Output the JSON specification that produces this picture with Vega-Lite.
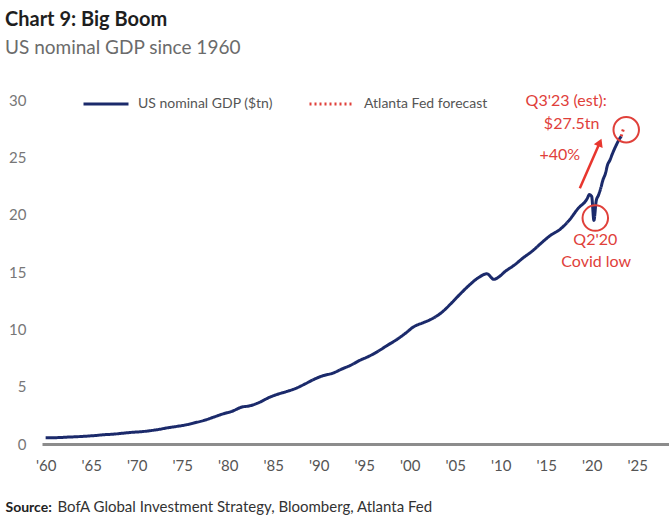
{
  "$schema": "https://vega.github.io/schema/vega-lite/v6.json",
  "width": 627,
  "height": 344,
  "autosize": {"type": "none"},
  "padding": {"left": 42, "top": 100, "right": 0, "bottom": 71},
  "background": "white",
  "title": {
    "text": "Chart 9: Big Boom",
    "subtitle": "US nominal GDP since 1960",
    "anchor": "start",
    "frame": "group",
    "dx": -37,
    "offset": 22,
    "font": "Lato",
    "fontSize": 20,
    "fontWeight": "bold",
    "color": "#1e1e1e",
    "subtitleFont": "Lato",
    "subtitleFontSize": 19,
    "subtitleColor": "#6b6b6b",
    "subtitlePadding": 9
  },
  "config": {
    "view": {"stroke": null},
    "font": "Lato",
    "legend": {
      "orient": "none",
      "legendX": 40,
      "legendY": -20,
      "direction": "horizontal",
      "title": null,
      "symbolType": "stroke",
      "symbolSize": 2025,
      "symbolStrokeWidth": 3,
      "labelFontSize": 14,
      "labelColor": "#555555",
      "labelFont": "Lato",
      "labelOffset": 8,
      "columnPadding": 30,
      "padding": 0
    }
  },
  "datasets": {
    "gdp": [
      {"t": 1960.0, "v": 0.54, "s": "US nominal GDP ($tn)"},
      {"t": 1960.5, "v": 0.543, "s": "US nominal GDP ($tn)"},
      {"t": 1961.5, "v": 0.563, "s": "US nominal GDP ($tn)"},
      {"t": 1962.5, "v": 0.605, "s": "US nominal GDP ($tn)"},
      {"t": 1963.5, "v": 0.638, "s": "US nominal GDP ($tn)"},
      {"t": 1964.5, "v": 0.686, "s": "US nominal GDP ($tn)"},
      {"t": 1965.5, "v": 0.744, "s": "US nominal GDP ($tn)"},
      {"t": 1966.5, "v": 0.815, "s": "US nominal GDP ($tn)"},
      {"t": 1967.5, "v": 0.862, "s": "US nominal GDP ($tn)"},
      {"t": 1968.5, "v": 0.943, "s": "US nominal GDP ($tn)"},
      {"t": 1969.5, "v": 1.019, "s": "US nominal GDP ($tn)"},
      {"t": 1970.5, "v": 1.073, "s": "US nominal GDP ($tn)"},
      {"t": 1971.5, "v": 1.165, "s": "US nominal GDP ($tn)"},
      {"t": 1972.5, "v": 1.28, "s": "US nominal GDP ($tn)"},
      {"t": 1973.5, "v": 1.425, "s": "US nominal GDP ($tn)"},
      {"t": 1974.5, "v": 1.545, "s": "US nominal GDP ($tn)"},
      {"t": 1975.5, "v": 1.684, "s": "US nominal GDP ($tn)"},
      {"t": 1976.5, "v": 1.873, "s": "US nominal GDP ($tn)"},
      {"t": 1977.5, "v": 2.082, "s": "US nominal GDP ($tn)"},
      {"t": 1978.5, "v": 2.352, "s": "US nominal GDP ($tn)"},
      {"t": 1979.5, "v": 2.627, "s": "US nominal GDP ($tn)"},
      {"t": 1980.5, "v": 2.857, "s": "US nominal GDP ($tn)"},
      {"t": 1981.5, "v": 3.207, "s": "US nominal GDP ($tn)"},
      {"t": 1982.5, "v": 3.343, "s": "US nominal GDP ($tn)"},
      {"t": 1983.5, "v": 3.634, "s": "US nominal GDP ($tn)"},
      {"t": 1984.5, "v": 4.037, "s": "US nominal GDP ($tn)"},
      {"t": 1985.5, "v": 4.339, "s": "US nominal GDP ($tn)"},
      {"t": 1986.5, "v": 4.58, "s": "US nominal GDP ($tn)"},
      {"t": 1987.5, "v": 4.855, "s": "US nominal GDP ($tn)"},
      {"t": 1988.5, "v": 5.236, "s": "US nominal GDP ($tn)"},
      {"t": 1989.5, "v": 5.642, "s": "US nominal GDP ($tn)"},
      {"t": 1990.5, "v": 5.963, "s": "US nominal GDP ($tn)"},
      {"t": 1991.5, "v": 6.158, "s": "US nominal GDP ($tn)"},
      {"t": 1992.5, "v": 6.52, "s": "US nominal GDP ($tn)"},
      {"t": 1993.5, "v": 6.859, "s": "US nominal GDP ($tn)"},
      {"t": 1994.5, "v": 7.287, "s": "US nominal GDP ($tn)"},
      {"t": 1995.5, "v": 7.64, "s": "US nominal GDP ($tn)"},
      {"t": 1996.5, "v": 8.073, "s": "US nominal GDP ($tn)"},
      {"t": 1997.5, "v": 8.578, "s": "US nominal GDP ($tn)"},
      {"t": 1998.5, "v": 9.063, "s": "US nominal GDP ($tn)"},
      {"t": 1999.5, "v": 9.631, "s": "US nominal GDP ($tn)"},
      {"t": 2000.5, "v": 10.251, "s": "US nominal GDP ($tn)"},
      {"t": 2001.5, "v": 10.582, "s": "US nominal GDP ($tn)"},
      {"t": 2002.5, "v": 10.936, "s": "US nominal GDP ($tn)"},
      {"t": 2003.5, "v": 11.458, "s": "US nominal GDP ($tn)"},
      {"t": 2004.5, "v": 12.214, "s": "US nominal GDP ($tn)"},
      {"t": 2005.5, "v": 13.037, "s": "US nominal GDP ($tn)"},
      {"t": 2006.5, "v": 13.815, "s": "US nominal GDP ($tn)"},
      {"t": 2007.5, "v": 14.474, "s": "US nominal GDP ($tn)"},
      {"t": 2008.5, "v": 14.84, "s": "US nominal GDP ($tn)"},
      {"t": 2009.25, "v": 14.36, "s": "US nominal GDP ($tn)"},
      {"t": 2009.75, "v": 14.54, "s": "US nominal GDP ($tn)"},
      {"t": 2010.5, "v": 15.05, "s": "US nominal GDP ($tn)"},
      {"t": 2011.5, "v": 15.6, "s": "US nominal GDP ($tn)"},
      {"t": 2012.5, "v": 16.25, "s": "US nominal GDP ($tn)"},
      {"t": 2013.5, "v": 16.84, "s": "US nominal GDP ($tn)"},
      {"t": 2014.5, "v": 17.55, "s": "US nominal GDP ($tn)"},
      {"t": 2015.5, "v": 18.21, "s": "US nominal GDP ($tn)"},
      {"t": 2016.5, "v": 18.7, "s": "US nominal GDP ($tn)"},
      {"t": 2017.5, "v": 19.48, "s": "US nominal GDP ($tn)"},
      {"t": 2018.5, "v": 20.53, "s": "US nominal GDP ($tn)"},
      {"t": 2019.5, "v": 21.38, "s": "US nominal GDP ($tn)"},
      {"t": 2019.75, "v": 21.75, "s": "US nominal GDP ($tn)"},
      {"t": 2020.0, "v": 21.6, "s": "US nominal GDP ($tn)"},
      {"t": 2020.25, "v": 19.5, "s": "US nominal GDP ($tn)"},
      {"t": 2020.5, "v": 21.2, "s": "US nominal GDP ($tn)"},
      {"t": 2020.75, "v": 21.7, "s": "US nominal GDP ($tn)"},
      {"t": 2021.0, "v": 22.31, "s": "US nominal GDP ($tn)"},
      {"t": 2021.25, "v": 23.05, "s": "US nominal GDP ($tn)"},
      {"t": 2021.5, "v": 23.55, "s": "US nominal GDP ($tn)"},
      {"t": 2021.75, "v": 24.35, "s": "US nominal GDP ($tn)"},
      {"t": 2022.0, "v": 24.74, "s": "US nominal GDP ($tn)"},
      {"t": 2022.25, "v": 25.25, "s": "US nominal GDP ($tn)"},
      {"t": 2022.5, "v": 25.72, "s": "US nominal GDP ($tn)"},
      {"t": 2022.75, "v": 26.14, "s": "US nominal GDP ($tn)"},
      {"t": 2023.0, "v": 26.53, "s": "US nominal GDP ($tn)"},
      {"t": 2023.25, "v": 26.84, "s": "US nominal GDP ($tn)"},
      {"t": 2023.25, "v": 26.84, "s": "Atlanta Fed forecast"},
      {"t": 2023.5, "v": 27.5, "s": "Atlanta Fed forecast"}
    ],
    "circles": [
      {"t": 2020.4, "v": 19.7, "r": "covid"},
      {"t": 2023.8, "v": 27.4, "r": "est"}
    ],
    "labels": [
      {"t": 2017.2, "v": 29.9, "label": "Q3'23 (est):"},
      {"t": 2017.8, "v": 27.95, "label": "$27.5tn"},
      {"t": 2016.5, "v": 25.2, "label": "+40%"},
      {"t": 2020.4, "v": 17.8, "label": "Q2'20"},
      {"t": 2020.5, "v": 15.9, "label": "Covid low"}
    ],
    "arrow": [
      {"t": 2018.7, "v": 22.3, "t2": 2020.9, "v2": 26.3}
    ]
  },
  "layer": [
    {
      "data": {"name": "gdp"},
      "mark": {"type": "line", "strokeWidth": 3, "interpolate": "monotone"},
      "encoding": {
        "x": {
          "field": "t",
          "type": "quantitative",
          "scale": {"domain": [1959.6, 2028.5], "nice": false, "zero": false},
          "axis": {
            "values": [1960, 1965, 1970, 1975, 1980, 1985, 1990, 1995, 2000, 2005, 2010, 2015, 2020, 2025],
            "labelExpr": "\"'\" + substring(toString(datum.value), 2, 4)",
            "labelFontSize": 15,
            "labelColor": "#555555",
            "labelPadding": 14,
            "ticks": false,
            "grid": false,
            "domainColor": "#8c8c8c",
            "domainWidth": 3,
            "title": "BofA Global Investment Strategy, Bloomberg, Atlanta Fed",
            "titleFont": "Lato",
            "titleFontSize": 15,
            "titleFontWeight": "normal",
            "titleColor": "#333333",
            "titleAnchor": "start",
            "titleAlign": "left",
            "titleBaseline": "alphabetic",
            "titleX": 15,
            "titleY": 67
          }
        },
        "y": {
          "field": "v",
          "type": "quantitative",
          "scale": {"domain": [0, 30], "nice": false},
          "axis": {
            "values": [0, 5, 10, 15, 20, 25, 30],
            "labelFontSize": 15,
            "labelColor": "#777777",
            "labelPadding": 16,
            "ticks": false,
            "grid": false,
            "domain": false,
            "title": "Source:",
            "titleFont": "Lato",
            "titleFontSize": 14,
            "titleFontWeight": "bold",
            "titleColor": "#222222",
            "titleAngle": 0,
            "titleAlign": "left",
            "titleBaseline": "alphabetic",
            "titleX": -37,
            "titleY": 411
          }
        },
        "color": {
          "field": "s",
          "type": "nominal",
          "scale": {"domain": ["US nominal GDP ($tn)", "Atlanta Fed forecast"], "range": ["#1b2a6b", "#e0403a"]}
        },
        "strokeDash": {
          "field": "s",
          "type": "nominal",
          "scale": {"domain": ["US nominal GDP ($tn)", "Atlanta Fed forecast"], "range": [[1, 0], [2, 3]]}
        }
      }
    },
    {
      "data": {"name": "circles"},
      "mark": {"type": "point", "shape": "circle", "filled": false, "size": 650, "strokeWidth": 2, "color": "#e0403a", "opacity": 1},
      "encoding": {
        "x": {"field": "t", "type": "quantitative"},
        "y": {"field": "v", "type": "quantitative"}
      }
    },
    {
      "data": {"name": "arrow"},
      "mark": {"type": "rule", "strokeWidth": 2.5, "color": "#e8362e"},
      "encoding": {
        "x": {"field": "t", "type": "quantitative"},
        "y": {"field": "v", "type": "quantitative"},
        "x2": {"field": "t2"},
        "y2": {"field": "v2"}
      }
    },
    {
      "data": {"name": "arrow"},
      "mark": {"type": "point", "shape": "triangle-up", "filled": true, "size": 90, "angle": 23, "color": "#e8362e", "opacity": 1},
      "encoding": {
        "x": {"field": "t2", "type": "quantitative"},
        "y": {"field": "v2", "type": "quantitative"}
      }
    },
    {
      "data": {"name": "labels"},
      "mark": {"type": "text", "fontSize": 16, "color": "#e0403a", "align": "center", "baseline": "middle", "font": "Lato"},
      "encoding": {
        "x": {"field": "t", "type": "quantitative"},
        "y": {"field": "v", "type": "quantitative"},
        "text": {"field": "label"}
      }
    }
  ]
}
